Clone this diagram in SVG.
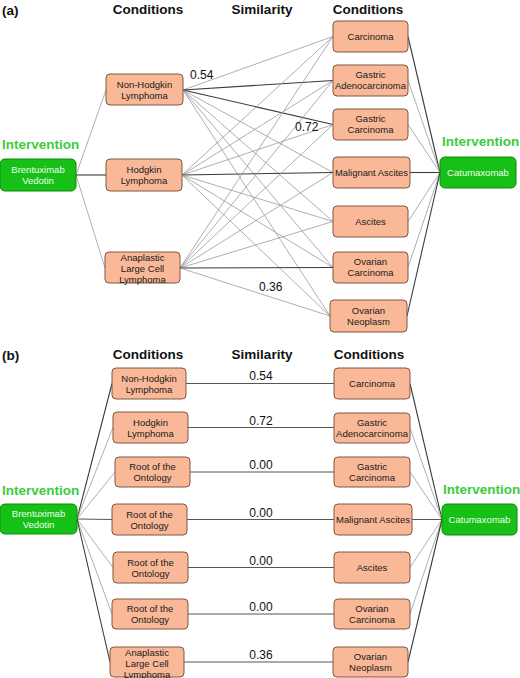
<svg xmlns="http://www.w3.org/2000/svg" width="520" height="678" viewBox="0 0 520 678">
<style>
.hdr{font-family:"Liberation Sans",Arial,sans-serif;font-weight:bold;font-size:13.5px;fill:#111}
.int{font-family:"Liberation Sans",Arial,sans-serif;font-weight:bold;font-size:13.5px;fill:#3ccc3c}
.cond rect{fill:#f9b898;stroke:#80563f;stroke-width:1}
.cond text{font-family:"Liberation Sans",Arial,sans-serif;font-size:9.5px;fill:#1a1a1a;text-anchor:middle}
.drug rect{fill:#16c016;stroke:#0b8a0b;stroke-width:1}
.drug text{font-family:"Liberation Sans",Arial,sans-serif;font-size:9.5px;fill:#f0fff0;text-anchor:middle}
.lbl{font-family:"Liberation Sans",Arial,sans-serif;font-size:12px;fill:#111}
.g{stroke:#9a9a9a;stroke-width:0.8;fill:none}
.d{stroke:#3a3a3a;stroke-width:1.1;fill:none}
.h{stroke:#555;stroke-width:1;fill:none}
</style>

<!-- Panel (a) headers -->
<text class="hdr" x="2" y="15">(a)</text>
<text class="hdr" x="148" y="14" text-anchor="middle">Conditions</text>
<text class="hdr" x="262" y="14" text-anchor="middle">Similarity</text>
<text class="hdr" x="368" y="14" text-anchor="middle">Conditions</text>
<text class="int" x="2" y="149">Intervention</text>
<text class="int" x="442" y="146">Intervention</text>

<g id="connectors-a">
<line class="g" x1="76" y1="175" x2="106" y2="90"/>
<line class="d" x1="76" y1="175" x2="106" y2="175"/>
<line class="g" x1="76" y1="175" x2="105" y2="268"/>
<!-- NHL -->
<line class="g" x1="183" y1="90" x2="333" y2="36.5"/>
<line class="d" x1="183" y1="90" x2="333" y2="80.5"/>
<line class="d" x1="183" y1="90" x2="333" y2="124.5"/>
<line class="g" x1="183" y1="90" x2="333" y2="172.5"/>
<line class="g" x1="183" y1="90" x2="333" y2="221.5"/>
<line class="g" x1="183" y1="90" x2="333" y2="267.5"/>
<line class="g" x1="183" y1="90" x2="330" y2="316"/>
<!-- Hodgkin -->
<line class="g" x1="182" y1="175" x2="333" y2="36.5"/>
<line class="g" x1="182" y1="175" x2="333" y2="80.5"/>
<line class="g" x1="182" y1="175" x2="333" y2="124.5"/>
<line class="d" x1="182" y1="175" x2="333" y2="172.5"/>
<line class="g" x1="182" y1="175" x2="333" y2="221.5"/>
<line class="g" x1="182" y1="175" x2="333" y2="267.5"/>
<line class="g" x1="182" y1="175" x2="330" y2="316"/>
<!-- Anaplastic -->
<line class="g" x1="180" y1="268" x2="333" y2="36.5"/>
<line class="g" x1="180" y1="268" x2="333" y2="80.5"/>
<line class="g" x1="180" y1="268" x2="333" y2="124.5"/>
<line class="g" x1="180" y1="268" x2="333" y2="172.5"/>
<line class="g" x1="180" y1="268" x2="333" y2="221.5"/>
<line class="d" x1="180" y1="268" x2="333" y2="267.5"/>
<line class="g" x1="180" y1="268" x2="330" y2="316"/>
<!-- to Catumaxomab -->
<line class="d" x1="408" y1="36.5" x2="440" y2="172.5"/>
<line class="g" x1="408" y1="80.5" x2="440" y2="172.5"/>
<line class="g" x1="408" y1="124.5" x2="440" y2="172.5"/>
<line class="d" x1="410" y1="172.5" x2="440" y2="172.5"/>
<line class="g" x1="408" y1="221.5" x2="440" y2="172.5"/>
<line class="g" x1="408" y1="267.5" x2="440" y2="172.5"/>
<line class="d" x1="407" y1="316" x2="440" y2="172.5"/>
<text class="lbl" x="190" y="79">0.54</text>
<text class="lbl" x="295" y="131">0.72</text>
<text class="lbl" x="259" y="291">0.36</text>
</g>

<g id="a-brentuximab" class="drug"><rect x="0" y="159" width="76" height="32" rx="5"/><text x="38" y="172.5">Brentuximab</text><text x="38" y="183.5">Vedotin</text></g>
<g id="a-catumaxomab" class="drug"><rect x="440" y="157" width="76" height="31" rx="5"/><text x="478" y="176">Catumaxomab</text></g>

<g id="a-nhl" class="cond"><rect x="106" y="74" width="77" height="31" rx="4"/><text x="144.5" y="88">Non-Hodgkin</text><text x="144.5" y="99">Lymphoma</text></g>
<g id="a-hl" class="cond"><rect x="106" y="159" width="76" height="32" rx="4"/><text x="144" y="172.5">Hodgkin</text><text x="144" y="183.5">Lymphoma</text></g>
<g id="a-alcl" class="cond"><rect x="105" y="252" width="75" height="31" rx="4"/><text x="142.5" y="261">Anaplastic</text><text x="142.5" y="272">Large Cell</text><text x="142.5" y="283">Lymphoma</text></g>

<g id="a-carcinoma" class="cond"><rect x="333" y="21" width="75" height="31" rx="4"/><text x="370.5" y="40">Carcinoma</text></g>
<g id="a-gastric-adeno" class="cond"><rect x="333" y="65" width="75" height="31" rx="4"/><text x="370.5" y="78">Gastric</text><text x="370.5" y="89" textLength="71" lengthAdjust="spacingAndGlyphs">Adenocarcinoma</text></g>
<g id="a-gastric-carc" class="cond"><rect x="333" y="109" width="75" height="31" rx="4"/><text x="370.5" y="122">Gastric</text><text x="370.5" y="133">Carcinoma</text></g>
<g id="a-malignant-ascites" class="cond"><rect x="333" y="157" width="77" height="31" rx="4"/><text x="371.5" y="176" textLength="73" lengthAdjust="spacingAndGlyphs">Malignant Ascites</text></g>
<g id="a-ascites" class="cond"><rect x="333" y="206" width="75" height="31" rx="4"/><text x="370.5" y="225">Ascites</text></g>
<g id="a-ovarian-carc" class="cond"><rect x="333" y="252" width="75" height="31" rx="4"/><text x="370.5" y="265">Ovarian</text><text x="370.5" y="276">Carcinoma</text></g>
<g id="a-ovarian-neo" class="cond"><rect x="330" y="300" width="77" height="32" rx="4"/><text x="368.5" y="313.5">Ovarian</text><text x="368.5" y="324.5">Neoplasm</text></g>

<!-- Panel (b) headers -->
<text class="hdr" x="2" y="360">(b)</text>
<text class="hdr" x="148" y="359" text-anchor="middle">Conditions</text>
<text class="hdr" x="262" y="359" text-anchor="middle">Similarity</text>
<text class="hdr" x="369" y="359" text-anchor="middle">Conditions</text>
<text class="int" x="2" y="495">Intervention</text>
<text class="int" x="443" y="494">Intervention</text>

<g id="connectors-b">
<line class="d" x1="77" y1="519" x2="112" y2="383.5"/>
<line class="g" x1="77" y1="519" x2="113" y2="427.5"/>
<line class="g" x1="77" y1="519" x2="115" y2="472"/>
<line class="h" x1="77" y1="519" x2="112" y2="519.5"/>
<line class="g" x1="77" y1="519" x2="113" y2="567.5"/>
<line class="g" x1="77" y1="519" x2="112" y2="614"/>
<line class="d" x1="77" y1="519" x2="110" y2="662"/>
<line class="h" x1="186" y1="383.5" x2="334" y2="383.5"/>
<line class="h" x1="188" y1="427.5" x2="334" y2="427.5"/>
<line class="h" x1="190" y1="472" x2="334" y2="472"/>
<line class="h" x1="187" y1="519.5" x2="334" y2="519.5"/>
<line class="h" x1="188" y1="567.5" x2="334" y2="567.5"/>
<line class="h" x1="188" y1="614" x2="334" y2="614"/>
<line class="h" x1="184" y1="662" x2="333" y2="662"/>
<line class="d" x1="410" y1="383.5" x2="442" y2="519.5"/>
<line class="g" x1="410" y1="428" x2="442" y2="519.5"/>
<line class="g" x1="410" y1="472" x2="442" y2="519.5"/>
<line class="h" x1="412" y1="519.5" x2="442" y2="519.5"/>
<line class="g" x1="410" y1="567.5" x2="442" y2="519.5"/>
<line class="g" x1="410" y1="614" x2="442" y2="519.5"/>
<line class="d" x1="408" y1="662" x2="442" y2="519.5"/>
<text class="lbl" x="261" y="380" text-anchor="middle">0.54</text>
<text class="lbl" x="261" y="424.5" text-anchor="middle">0.72</text>
<text class="lbl" x="261" y="469" text-anchor="middle">0.00</text>
<text class="lbl" x="261" y="516.5" text-anchor="middle">0.00</text>
<text class="lbl" x="261" y="564.5" text-anchor="middle">0.00</text>
<text class="lbl" x="261" y="611" text-anchor="middle">0.00</text>
<text class="lbl" x="261" y="659" text-anchor="middle">0.36</text>
</g>

<g id="b-brentuximab" class="drug"><rect x="0" y="504" width="77" height="30" rx="5"/><text x="38.5" y="516.5">Brentuximab</text><text x="38.5" y="527.5">Vedotin</text></g>
<g id="b-catumaxomab" class="drug"><rect x="442" y="504" width="75" height="31" rx="5"/><text x="479.5" y="523">Catumaxomab</text></g>

<g id="b-nhl" class="cond"><rect x="112" y="368" width="74" height="31" rx="4"/><text x="149" y="381.5">Non-Hodgkin</text><text x="149" y="392.5">Lymphoma</text></g>
<g id="b-hl" class="cond"><rect x="113" y="412" width="75" height="31" rx="4"/><text x="150.5" y="425.5">Hodgkin</text><text x="150.5" y="436.5">Lymphoma</text></g>
<g id="b-root1" class="cond"><rect x="115" y="457" width="75" height="30" rx="4"/><text x="152.5" y="470">Root of the</text><text x="152.5" y="481">Ontology</text></g>
<g id="b-root2" class="cond"><rect x="112" y="504" width="75" height="31" rx="4"/><text x="149.5" y="517.5">Root of the</text><text x="149.5" y="528.5">Ontology</text></g>
<g id="b-root3" class="cond"><rect x="113" y="552" width="75" height="31" rx="4"/><text x="150.5" y="565.5">Root of the</text><text x="150.5" y="576.5">Ontology</text></g>
<g id="b-root4" class="cond"><rect x="112" y="599" width="76" height="30" rx="4"/><text x="150" y="612">Root of the</text><text x="150" y="623">Ontology</text></g>
<g id="b-alcl" class="cond"><rect x="110" y="647" width="74" height="30" rx="4"/><text x="147" y="655.5">Anaplastic</text><text x="147" y="666.5">Large Cell</text><text x="147" y="677.5">Lymphoma</text></g>

<g id="b-carcinoma" class="cond"><rect x="334" y="368" width="76" height="31" rx="4"/><text x="372" y="387">Carcinoma</text></g>
<g id="b-gastric-adeno" class="cond"><rect x="334" y="413" width="76" height="30" rx="4"/><text x="372" y="425.5">Gastric</text><text x="372" y="436.5" textLength="72" lengthAdjust="spacingAndGlyphs">Adenocarcinoma</text></g>
<g id="b-gastric-carc" class="cond"><rect x="334" y="457" width="76" height="30" rx="4"/><text x="372" y="470">Gastric</text><text x="372" y="481">Carcinoma</text></g>
<g id="b-malignant-ascites" class="cond"><rect x="334" y="504" width="78" height="31" rx="4"/><text x="373" y="523" textLength="74" lengthAdjust="spacingAndGlyphs">Malignant Ascites</text></g>
<g id="b-ascites" class="cond"><rect x="334" y="552" width="76" height="31" rx="4"/><text x="372" y="571">Ascites</text></g>
<g id="b-ovarian-carc" class="cond"><rect x="334" y="599" width="76" height="30" rx="4"/><text x="372" y="612">Ovarian</text><text x="372" y="623">Carcinoma</text></g>
<g id="b-ovarian-neo" class="cond"><rect x="333" y="647" width="75" height="30" rx="4"/><text x="370.5" y="660">Ovarian</text><text x="370.5" y="671">Neoplasm</text></g>
</svg>
